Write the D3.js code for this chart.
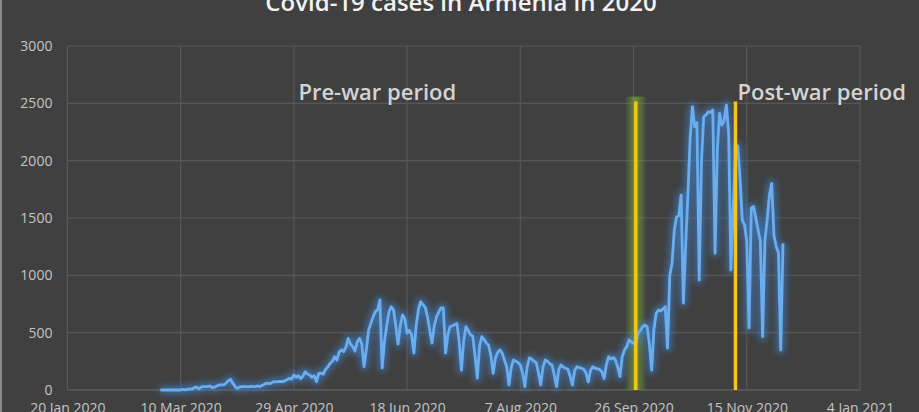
<!DOCTYPE html>
<html><head><meta charset="utf-8">
<script src="https://cdn.jsdelivr.net/npm/d3@7"></script>
<style>
html,body{margin:0;padding:0;background:#404040;}
svg{display:block;}
</style></head><body>
<svg id="c" width="919" height="412"></svg>
<script>
// ---------- data ----------
const chartTitle = "Covid-19 cases in Armenia in 2020";
const seriesStart = "2020-03-01";
const dailyCases = [
 1,0,0,0,0,0,0,0,0,0,6,2,5,10,
 8,20,26,10,25,30,29,
 30,35,20,25,35,44,44,
 44,58,80,93,60,30,15,
 25,30,29,30,28,32,29,
 29,35,30,40,50,60,55,
 60,73,70,73,75,73,80,
 90,102,95,131,110,125,100,
 120,160,140,131,110,125,73,
 145,146,138,180,200,233,250,
 290,260,330,349,335,374,450,
 400,380,340,420,450,400,203,
 350,520,581,640,683,700,785,
 192,420,560,680,726,700,560,
 400,560,654,620,497,520,480,
 323,560,700,770,745,720,640,
 520,410,560,639,680,715,715,
 323,480,552,560,570,581,420,
 174,430,552,520,480,470,300,
 104,380,465,440,410,390,300,
 145,280,330,349,320,262,200,
 44,200,262,250,240,218,150,
 30,200,279,270,250,240,150,
 44,200,262,250,230,218,130,
 30,180,218,200,190,180,120,
 44,170,203,195,190,180,150,
 70,170,203,190,185,180,160,
 100,220,290,270,283,262,200,
 116,290,349,378,436,420,407,
 410,494,520,550,567,550,400,
 174,530,669,698,690,705,727,
 366,1000,1105,1395,1511,1520,1700,
 758,1250,1700,2200,2470,2296,2330,
 959,2000,2383,2400,2427,2420,2442,
 1192,2100,2412,2310,2350,2485,2240,
 1046,1600,2050,2130,1850,1482,1440,
 1300,541,1587,1600,1500,1395,1300,
 465,1300,1482,1700,1802,1350,1250,
 1200,349,1279
];
const xTickDates = ["2020-01-20","2020-03-10","2020-04-29","2020-06-18","2020-08-07","2020-09-26","2020-11-15","2021-01-04"];
const yTickValues = [0,500,1000,1500,2000,2500,3000];
const markerDates = ["2020-09-27","2020-11-10"];
const markerTop = 2515;
const periodLabels = ["Pre-war period","Post-war period"];
const periodLabelDates = ["2020-05-01","2020-11-10"];
const periodLabelValue = 2530;

(function(){
// ---------- layout ----------
const W = 919, H = 412;
const mLeft = 67.4, mRight = 860, mTop = 46, mBottom = 390;
const parse = d3.utcParse("%Y-%m-%d");
const x = d3.scaleUtc().domain([parse(xTickDates[0]), parse(xTickDates[xTickDates.length-1])]).range([mLeft, mRight]);
const y = d3.scaleLinear().domain([0,3000]).range([mBottom, mTop]);
const t0 = parse(seriesStart);
const data = dailyCases.map((v,i)=>({d:d3.utcDay.offset(t0,i), v}));

const svg = d3.select("#c");
svg.append("rect").attr("width",W).attr("height",H).attr("fill","#404040");
svg.append("rect").attr("x",0).attr("y",0).attr("width",2).attr("height",H).attr("fill","#8a8a8a");

const defs = svg.append("defs");
const f1 = defs.append("filter").attr("id","blur3").attr("x","-20%").attr("y","-20%").attr("width","140%").attr("height","140%");
f1.append("feGaussianBlur").attr("stdDeviation",3);
const g = defs.append("linearGradient").attr("id","greenGlow").attr("x1","0%").attr("x2","100%").attr("y1","0%").attr("y2","0%");
[[0,0],[0.3,0.45],[0.5,0.7],[0.7,0.45],[1,0]].forEach(([o,a])=>
  g.append("stop").attr("offset",o).attr("stop-color","#7bab32").attr("stop-opacity",a));

// grid
const grid = svg.append("g");
grid.selectAll("line.h").data(yTickValues.slice(1)).join("line")
  .attr("x1",mLeft).attr("x2",mRight).attr("y1",d=>y(d)).attr("y2",d=>y(d))
  .attr("stroke","#575757").attr("stroke-width",1.2);
grid.selectAll("line.v").data(xTickDates).join("line")
  .attr("x1",d=>x(parse(d))).attr("x2",d=>x(parse(d))).attr("y1",mTop).attr("y2",mBottom)
  .attr("stroke","#575757").attr("stroke-width",1.2);
svg.append("line").attr("x1",mLeft).attr("x2",mRight).attr("y1",mBottom).attr("y2",mBottom)
  .attr("stroke","#5e5e5e").attr("stroke-width",1.5);

// axes
const yAxis = svg.append("g").attr("transform",`translate(${mLeft},0)`)
  .call(d3.axisLeft(y).tickValues(yTickValues).tickFormat(d3.format("d")).tickSize(0).tickPadding(15));
yAxis.select(".domain").remove();
yAxis.selectAll("text").attr("fill","#c4c4c4").style("font-family","'Open Sans'").style("font-size","14px");

const xAxis = svg.append("g").attr("transform",`translate(0,${mBottom})`)
  .call(d3.axisBottom(x).tickValues(xTickDates.map(parse)).tickFormat(d3.utcFormat("%-d %b %Y")).tickSize(0).tickPadding(13));
xAxis.select(".domain").remove();
xAxis.selectAll("text").attr("fill","#c4c4c4").style("font-family","'Open Sans'").style("font-size","14px");

// title
svg.append("text").attr("x",461).attr("y",11).attr("text-anchor","middle")
  .attr("fill","#f2f2f2").style("font-family","'Open Sans'").style("font-weight","600").style("font-size","24px")
  .text(chartTitle);

// period labels
svg.selectAll("text.period").data(periodLabels).join("text").attr("class","period")
  .attr("x",(d,i)=>x(parse(periodLabelDates[i])) + (i===0?0:2))
  .attr("y",y(periodLabelValue))
  .attr("fill","#d4d4d4").style("font-family","'Open Sans'").style("font-weight","600").style("font-size","22px")
  .text(d=>d);

// green glow behind first marker
const gx = x(parse(markerDates[0]));
svg.append("rect").attr("x",gx-11).attr("width",22)
  .attr("y",y(markerTop)-5).attr("height",mBottom-(y(markerTop)-5))
  .attr("fill","url(#greenGlow)");

// line
const line = d3.line().x(d=>x(d.d)).y(d=>y(d.v));
svg.append("path").datum(data).attr("d",line).attr("fill","none")
  .attr("stroke","#3f86d6").attr("stroke-width",8).attr("opacity",0.6).attr("filter","url(#blur3)")
  .attr("stroke-linejoin","round");
svg.append("path").datum(data).attr("d",line).attr("fill","none")
  .attr("stroke","#6aaeef").attr("stroke-width",2.8).attr("stroke-linejoin","round");

// markers
const mk = svg.append("g");
markerDates.forEach(md=>{
  mk.append("line").attr("x1",x(parse(md))).attr("x2",x(parse(md)))
    .attr("y1",y(markerTop)).attr("y2",mBottom)
    .attr("stroke","#f5c518").attr("stroke-width",3.5);
});
})();
</script>
</body></html>
